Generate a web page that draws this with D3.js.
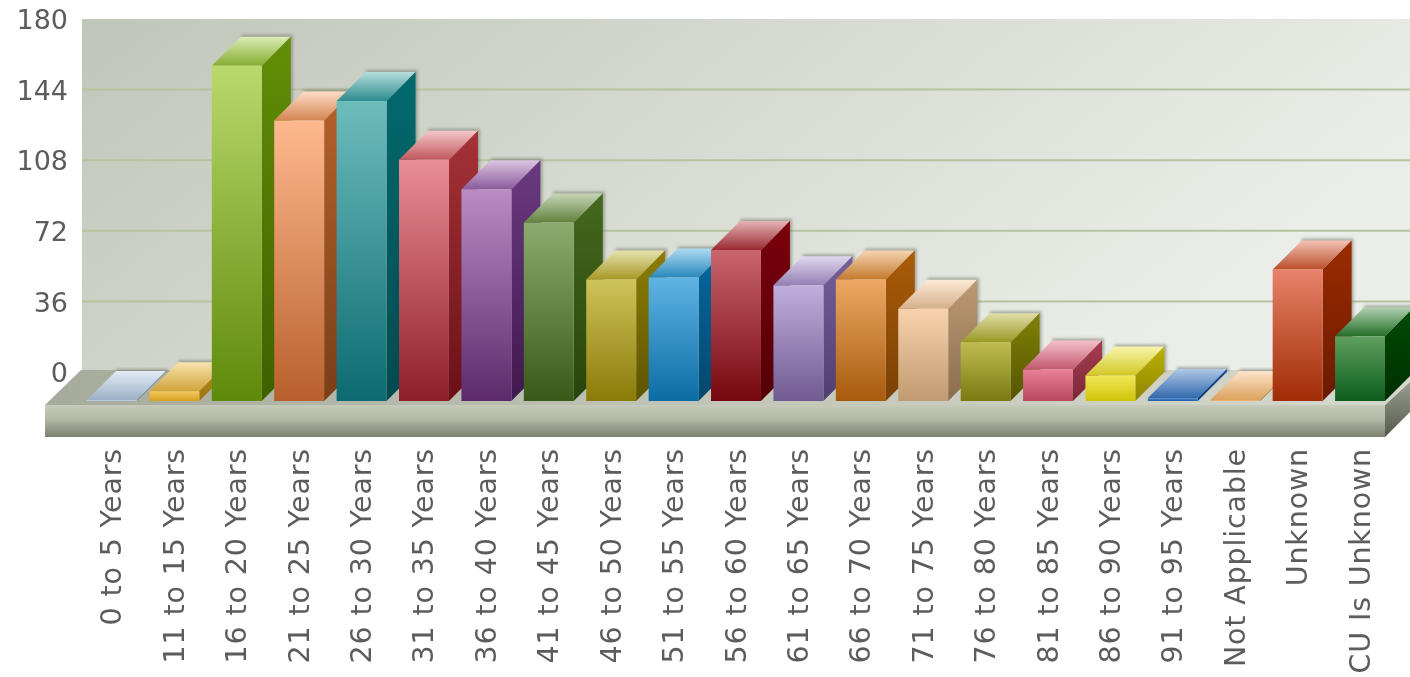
<!DOCTYPE html>
<html><head><meta charset="utf-8">
<script src="https://cdn.jsdelivr.net/npm/d3@7"></script>
<style>html,body{margin:0;padding:0;background:#fff;overflow:hidden}svg{display:block;filter:blur(.6px)}</style>
</head><body><svg id="c" width="1410" height="677"></svg>
<script>
const categories=["0 to 5 Years","11 to 15 Years","16 to 20 Years","21 to 25 Years","26 to 30 Years","31 to 35 Years","36 to 40 Years","41 to 45 Years","46 to 50 Years","51 to 55 Years","56 to 60 Years","61 to 65 Years","66 to 70 Years","71 to 75 Years","76 to 80 Years","81 to 85 Years","86 to 90 Years","91 to 95 Years","Not Applicable","Unknown","CU Is Unknown"];
const values=[0.5,5,171,143,153,123,108,91,62,63,77,59,62,47,30,16,13,1.5,0.5,67,33];
const tickValues=[0,36,72,108,144,180];
const frontTop=["#c6d9ec","#f0c860","#b9d96c","#ffb98f","#6dbdbd","#e88e94","#b98cc4","#8cab6e","#cfc45a","#5fb4e4","#c8666c","#c0b0dc","#eca864","#f8d2ac","#c0bc50","#e88098","#f0e858","#5c90cc","#f8c890","#e8826a","#60a060"];
const frontBottom=["#a8c0da","#d8a020","#5e8a0a","#b8602c","#0c6a70","#8e1e28","#5c2a6c","#375a18","#8a7a08","#0a6ca4","#76060f","#705a92","#a85a0c","#c09a70","#7a7810","#b8485c","#d0c408","#1c5ca8","#e89840","#a02c04","#0c5c1c"];
const sideTop=["#7f94ad","#b98c1e","#628f06","#b5622a","#036a6e","#a53238","#6a3a80","#44691e","#8b7d05","#05699f","#7c000c","#75609a","#ab5c08","#bd9a74","#808006","#a83c52","#bdb202","#174f9a","#c98a3e","#9c2b00","#004c04"];
const sideBottom=["#6a7f98","#9c7410","#3f6000","#7a3e18","#004a50","#6a1018","#40184e","#28440c","#5e5402","#03476e","#520006","#4f3f70","#7a4004","#8a6d4e","#565602","#7a2838","#8c8400","#0e3a72","#9c6a2c","#6a1a00","#002e02"];
const chart={L:87,R:1385,base:401,top:48,dx:29,dy:29};

const svg=d3.select("#c"),defs=svg.append("defs");
const x=d3.scaleBand().domain(categories).range([chart.L,chart.R]).paddingInner(.2).paddingOuter(0);
const y=d3.scaleLinear().domain([0,180]).range([chart.base,chart.top]);
function lg(id,stops,x2=0,y2=1){const g=defs.append("linearGradient").attr("id",id).attr("x1",0).attr("y1",0).attr("x2",x2).attr("y2",y2);
 stops.forEach(([o,c])=>g.append("stop").attr("offset",o).attr("stop-color",c));}
lg("wall",[[0,"#c1c6ba"],[.45,"#d4d8ce"],[1,"#ebeee8"]],1,.35);
lg("floorTop",[[0,"#a6ab9c"],[.5,"#c2c6b8"],[1,"#d5d8cc"]],1,0);
lg("floorFront",[[0,"#c6cbb9"],[.45,"#b3b8a5"],[1,"#7b8071"]]);
lg("floorSide",[[0,"#9a9e90"],[1,"#55594c"]]);
defs.append("filter").attr("id","soft").attr("x","-20%").attr("y","-20%").attr("width","140%").attr("height","140%")
  .append("feGaussianBlur").attr("stdDeviation",1.6);
categories.forEach((c,i)=>{
  lg("f"+i,[[0,frontTop[i]],[1,frontBottom[i]]]);
  lg("s"+i,[[0,sideTop[i]],[1,sideBottom[i]]]);
  lg("t"+i,[[0,d3.interpolateRgb(frontTop[i],"#fff")(.5)],[1,d3.interpolateRgb(frontTop[i],sideTop[i])(.6)]]);
});
const dx=chart.dx,dy=chart.dy,W=1410;
const wallTop=y(180)-dy,wallBot=y(0)-dy;
svg.append("rect").attr("x",82).attr("y",wallTop).attr("width",W-82).attr("height",wallBot-wallTop+3).attr("fill","url(#wall)");
svg.append("g").selectAll("line").data(tickValues.filter(v=>v>0&&v<180)).join("line")
  .attr("x1",82).attr("x2",W).attr("y1",v=>y(v)-dy).attr("y2",v=>y(v)-dy)
  .attr("stroke","#b6c2a0").attr("stroke-width",2);
// floor
const fy=chart.base+4, fb=chart.base+36;
svg.append("polygon").attr("points",[[45,fy],[81,wallBot-2],[W,wallBot-2],[W,fy-23],[chart.R,fy]].join(" ")).attr("fill","url(#floorTop)");
svg.append("rect").attr("x",45).attr("y",fy).attr("width",chart.R-45).attr("height",fb-fy).attr("fill","url(#floorFront)");
svg.append("polygon").attr("points",[[chart.R,fy],[W,fy-23],[W,fb-25],[chart.R,fb]].join(" ")).attr("fill","url(#floorSide)");
// bars
const bars=svg.append("g").selectAll("g").data(categories.map((c,i)=>({c,v:values[i],i}))).join("g");
const w=x.bandwidth();
bars.append("path").attr("filter","url(#soft)").attr("fill","#6f7268").attr("fill-opacity",.55)
  .attr("d",d=>{const a=x(d.c)+1,t=y(d.v);return `M${a+dx-1},${t-dy-2}H${a+w+dx+1}V${chart.base-dy}H${a+w+dx-6}V${t-dy+4}H${a+dx}Z`;});
bars.append("polygon").attr("fill",d=>`url(#t${d.i})`)
  .attr("points",d=>{const a=x(d.c),t=y(d.v);return [[a,t],[a+dx,t-dy],[a+w+dx,t-dy],[a+w,t]].join(" ");});
bars.append("polygon").attr("fill",d=>`url(#s${d.i})`)
  .attr("points",d=>{const a=x(d.c)+w,t=y(d.v);return [[a,t],[a+dx,t-dy],[a+dx,chart.base-dy],[a,chart.base]].join(" ");});
bars.append("rect").attr("x",d=>x(d.c)).attr("y",d=>y(d.v)).attr("width",w).attr("height",d=>chart.base-y(d.v)).attr("fill",d=>`url(#f${d.i})`);
// axes
const font='"DejaVu Sans",sans-serif';
const ay=svg.append("g").attr("transform",`translate(68,${-dy+1})`).call(d3.axisLeft(y).tickValues(tickValues).tickSize(0).tickPadding(0));
ay.select(".domain").remove();
ay.selectAll("text").attr("font-family",font).attr("font-size",27).attr("fill","#5c5c5c");
const ax=svg.append("g").attr("transform","translate(0,448)").call(d3.axisBottom(x).tickSize(0).tickPadding(0));
ax.select(".domain").remove();
ax.selectAll("text").attr("font-family",font).attr("font-size",28.5).attr("letter-spacing","0.85px").attr("fill","#5c5c5c")
  .attr("text-anchor","end").attr("dy",0).attr("dominant-baseline","central").attr("transform","rotate(-90)").attr("x",0).attr("y",0);
</script></body></html>
